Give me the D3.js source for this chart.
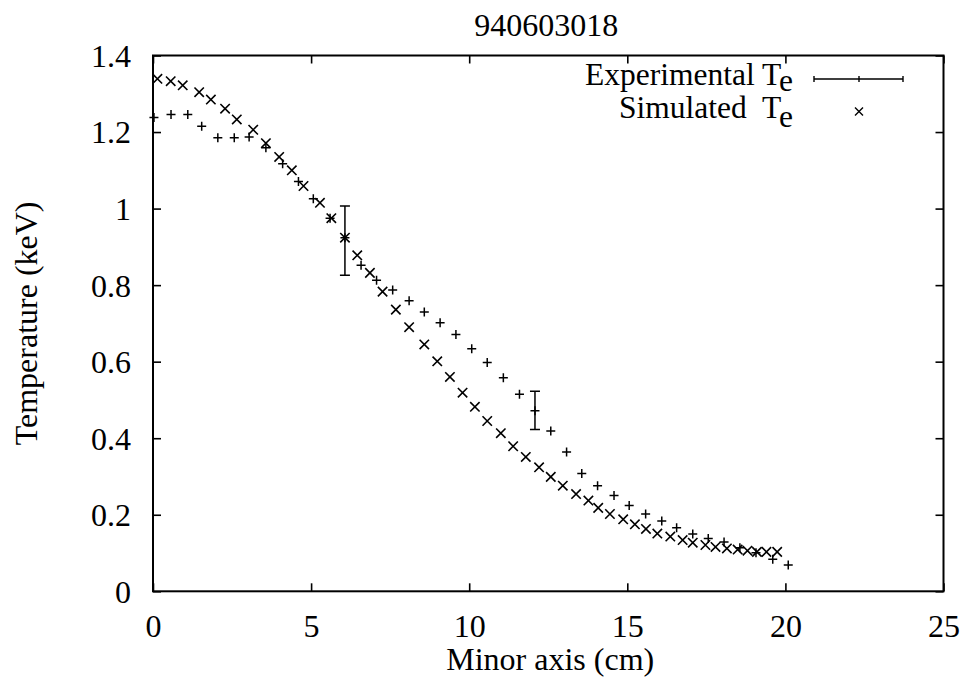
<!DOCTYPE html>
<html>
<head>
<meta charset="utf-8">
<script src="https://cdn.jsdelivr.net/npm/d3@7"></script>
<style>
  html, body { margin: 0; padding: 0; background: #fff; }
  svg { display: block; }
</style>
</head>
<body>
<svg id="chart" width="962" height="679"></svg>
<script>
// ---- data ----
const title = "940603018";
const xTicks = [0, 5, 10, 15, 20, 25];
const yTicks = [0, 0.2, 0.4, 0.6, 0.8, 1.0, 1.2, 1.4];

const expX = [0.03, 0.57, 1.10, 1.54, 2.05, 2.57, 3.04, 3.57, 4.10, 4.60, 5.07, 5.60, 6.07, 6.58, 7.07, 7.58, 8.10, 8.58, 9.08, 9.58, 10.08, 10.57, 11.08, 11.59, 12.08, 12.58, 13.08, 13.56, 14.06, 14.58, 15.06, 15.58, 16.09, 16.56, 17.07, 17.56, 18.06, 18.56, 19.07, 19.60, 20.09];
const expT = [1.238, 1.246, 1.246, 1.215, 1.185, 1.185, 1.187, 1.159, 1.117, 1.071, 1.026, 0.975, 0.924, 0.852, 0.813, 0.787, 0.759, 0.730, 0.702, 0.671, 0.634, 0.598, 0.558, 0.515, 0.472, 0.419, 0.364, 0.308, 0.276, 0.250, 0.224, 0.202, 0.184, 0.166, 0.150, 0.138, 0.129, 0.114, 0.101, 0.084, 0.069];

// error bars (shown only on two experimental points)
const errX = [6.07, 12.08];
const errLow = [0.826, 0.423];
const errHigh = [1.007, 0.523];

const simX = [0.14, 0.56, 0.94, 1.46, 1.83, 2.28, 2.65, 3.17, 3.57, 3.99, 4.39, 4.76, 5.28, 5.64, 6.07, 6.46, 6.86, 7.26, 7.68, 8.10, 8.58, 8.99, 9.39, 9.79, 10.18, 10.57, 11.00, 11.39, 11.79, 12.21, 12.58, 12.96, 13.38, 13.77, 14.08, 14.45, 14.87, 15.24, 15.59, 15.95, 16.36, 16.75, 17.07, 17.47, 17.79, 18.15, 18.49, 18.80, 19.10, 19.40, 19.74];
const simT = [1.339, 1.333, 1.322, 1.304, 1.285, 1.261, 1.233, 1.206, 1.171, 1.135, 1.100, 1.059, 1.015, 0.975, 0.924, 0.878, 0.832, 0.783, 0.736, 0.690, 0.645, 0.601, 0.560, 0.519, 0.482, 0.445, 0.413, 0.379, 0.351, 0.324, 0.299, 0.276, 0.254, 0.237, 0.218, 0.202, 0.188, 0.175, 0.163, 0.151, 0.143, 0.134, 0.127, 0.121, 0.116, 0.112, 0.109, 0.106, 0.103, 0.103, 0.103];

const xLabel = "Minor axis (cm)";
const yLabel = "Temperature (keV)";
const legendExp = "Experimental";
const legendSim = "Simulated";

// ---- layout ----
const L = 153, R = 943.5, T = 55.5, B = 591.3;
const FS = 32;
const FS_LEG = 31.5;
const FONT = '"Liberation Serif", "Times New Roman", Times, "DejaVu Serif", serif';

const svg = d3.select("#chart");
const x = d3.scaleLinear().domain([0, 25]).range([L, R]);
const y = d3.scaleLinear().domain([0, 1.4]).range([B, T]);

// ticks (inward, all four sides)
const tl = 8;
const axB = svg.append("g").attr("transform", `translate(0,${B})`)
  .call(d3.axisBottom(x).tickValues(xTicks).tickSize(-tl).tickPadding(0).tickFormat(d => d));
axB.selectAll("text").attr("y", 46).attr("dy", null);
const axT = svg.append("g").attr("transform", `translate(0,${T})`)
  .call(d3.axisTop(x).tickValues(xTicks).tickSize(-tl).tickFormat(""));
const axL = svg.append("g").attr("transform", `translate(${L},0)`)
  .call(d3.axisLeft(y).tickValues(yTicks).tickSize(-tl).tickPadding(0).tickFormat(d => d3.format("~g")(d)));
axL.selectAll("text").attr("x", -22).attr("dy", "0.34em");
const axR = svg.append("g").attr("transform", `translate(${R},0)`)
  .call(d3.axisRight(y).tickValues(yTicks).tickSize(-tl).tickFormat(""));
[axB, axT, axL, axR].forEach(a => {
  a.attr("font-family", FONT).attr("font-size", FS);
  a.select(".domain").remove();
  a.selectAll(".tick line").attr("stroke", "#000").attr("stroke-width", 1.6);
  a.selectAll(".tick text").attr("fill", "#000");
});

// frame
svg.append("rect").attr("x", L).attr("y", T).attr("width", R - L).attr("height", B - T)
  .attr("fill", "none").attr("stroke", "#000").attr("stroke-width", 2);

// title & axis labels
const txt = (sel, fs = FS) => sel.attr("font-family", FONT).attr("font-size", fs).attr("fill", "#000");
svg.append("text").attr("x", (L + R) / 2 - 2).attr("y", 36).attr("text-anchor", "middle")
  .call(txt).text(title);
svg.append("text").attr("x", (L + R) / 2 + 2).attr("y", 670).attr("text-anchor", "middle")
  .call(txt).text(xLabel);
svg.append("text").attr("transform", `translate(37,${(T + B) / 2}) rotate(-90)`)
  .attr("text-anchor", "middle").call(txt).text(yLabel);

// markers
const plusPath = s => `M${-s},0H${s}M0,${-s}V${s}`;
const crossPath = s => `M${-s},${-s}L${s},${s}M${-s},${s}L${s},${-s}`;

const expData = expX.map((v, i) => ({ x: v, t: expT[i] }));
const simData = simX.map((v, i) => ({ x: v, t: simT[i] }));
const errData = errX.map((v, i) => ({ x: v, lo: errLow[i], hi: errHigh[i] }));

const cap = 5;
const eg = svg.append("g").attr("stroke", "#000").attr("stroke-width", 1.5).attr("fill", "none");
eg.selectAll("path.err").data(errData).join("path").attr("class", "err")
  .attr("d", d => {
    const cx = x(d.x), y0 = y(d.lo), y1 = y(d.hi);
    return `M${cx},${y0}V${y1}M${cx - cap},${y0}H${cx + cap}M${cx - cap},${y1}H${cx + cap}`;
  });
eg.selectAll("path.plus").data(expData).join("path").attr("class", "plus")
  .attr("transform", d => `translate(${x(d.x)},${y(d.t)})`)
  .attr("d", plusPath(4.5));

const sg = svg.append("g").attr("stroke", "#000").attr("stroke-width", 1.6).attr("fill", "none");
sg.selectAll("path").data(simData).join("path")
  .attr("transform", d => `translate(${x(d.x)},${y(d.t)})`)
  .attr("d", crossPath(4.7));

// legend
const lx = 793;
const t1 = svg.append("text").attr("x", lx).attr("y", 85).attr("text-anchor", "end").call(txt, FS_LEG);
t1.append("tspan").text(legendExp + " T");
t1.append("tspan").attr("dy", 6).text("e");
const t2 = svg.append("text").attr("x", lx).attr("y", 118).attr("text-anchor", "end").call(txt, FS_LEG)
  .attr("xml:space", "preserve").style("white-space", "pre");
t2.append("tspan").text(legendSim + "  T");
t2.append("tspan").attr("dy", 9).text("e");

const lg = svg.append("g").attr("stroke", "#000").attr("stroke-width", 1.4).attr("fill", "none");
lg.append("path").attr("d", `M814,79H903M814,76V82M903,76V82M859,76V82`);
lg.append("path").attr("transform", "translate(859,111.5)").attr("d", crossPath(4));
</script>
</body>
</html>
